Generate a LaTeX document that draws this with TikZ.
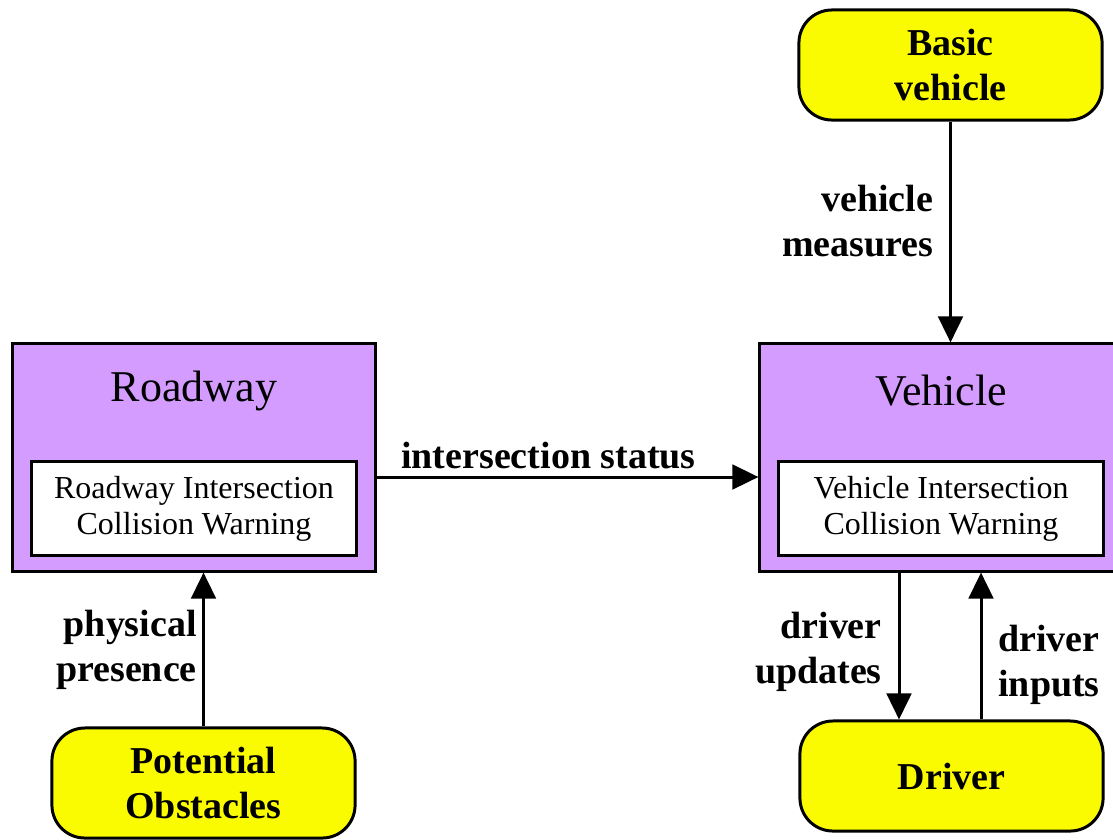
\documentclass[tikz,border=0pt]{standalone}
\usepackage{fontspec}
\setmainfont{Liberation Serif}
\usetikzlibrary{arrows.meta, positioning, calc}
\definecolor{boxyellow}{RGB}{250,250,0}
\definecolor{boxpurple}{RGB}{212,156,255}

\begin{document}
\begin{tikzpicture}[x=0.01cm, y=-0.01cm, >={Triangle[length=7.4pt, width=7pt]},
  ext/.style={draw, line width=0.85pt, fill=boxyellow, rounded corners=0.33cm,
    minimum width=3.03cm, minimum height=1.1cm, align=center,
    font=\bfseries\fontsize{10.8}{12.8}\selectfont},
  sys/.style={draw, line width=0.85pt, fill=boxpurple, minimum width=3.62cm, minimum height=2.27cm},
  sub/.style={draw, line width=0.85pt, fill=white, minimum width=3.24cm, minimum height=0.94cm,
    align=center, font=\fontsize{9.1}{10.3}\selectfont},
  ttl/.style={font=\fontsize{12.5}{15}\selectfont},
  flow/.style={->, line width=0.85pt},
  lbl/.style={align=right, inner sep=4.5pt, font=\bfseries\fontsize{10.8}{12.8}\selectfont}]
  \useasboundingbox (0,0) rectangle (1113,839);
  % Systems
  \node[sys] (roadway) at (194,457.5) {};
  \node[sys] (vehicle) at (941,457.5) {};
  \node[ttl] (roadwayttl) at (194,391) {Roadway};
  \node[ttl] (vehiclettl) at (941,391) {Vehicle};
  \node[sub] (rcw) at (194,508.5) {Roadway Intersection\\Collision Warning};
  \node[sub] (vcw) at (941,508.5) {Vehicle Intersection\\Collision Warning};
  % Terminators
  \node[ext] (basic) at (950.5,65) {Basic\\vehicle};
  \node[ext] (obstacles) at (203.5,783) {Potential\\Obstacles};
  \node[ext] (driver) at (951.5,776) {Driver};
  % Flows
  \draw[flow] (basic.south) -- (basic.south |- vehicle.north)
    node[lbl, left, pos=0.45] (measures) {vehicle\\measures};
  \draw[flow] ($(roadway.east)+(0,19.5)$) -- ($(vehicle.west)+(0,19.5)$)
    node[lbl, above, pos=0.45, inner sep=2pt] (status) {intersection status};
  \draw[flow] (obstacles.north) -- (obstacles.north |- roadway.south)
    node[lbl, left, midway, inner sep=1.5pt] (presence) {physical\\presence};
  \draw[flow] ($(vehicle.south)+(-42,0)$) coordinate (updtop) -- (updtop |- driver.north)
    node[lbl, left, midway, yshift=-1.7pt] (updates) {driver\\updates};
  \draw[flow] ($(driver.north)+(29.5,0)$) coordinate (inpbot) -- (inpbot |- vehicle.south)
    node[lbl, right, pos=0.37, align=left] (inputs) {driver\\inputs};
\end{tikzpicture}
\end{document}
